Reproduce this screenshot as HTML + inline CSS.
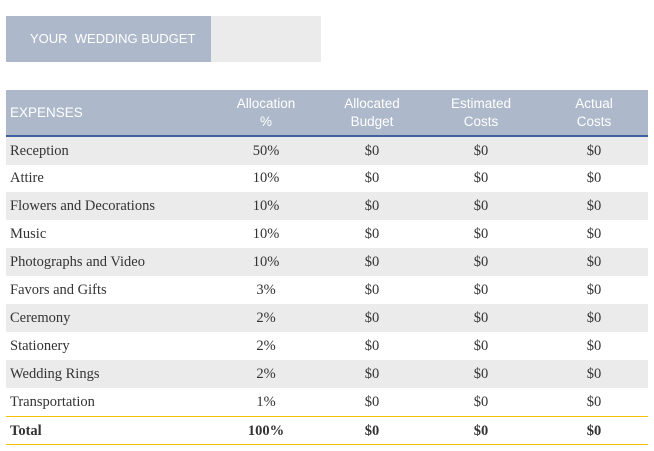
<!DOCTYPE html>
<html><head><style>
body{margin:0;width:654px;height:451px;background:#fff;position:relative;font-family:"Liberation Serif",serif;color:#333;}
.tb{position:absolute;left:6px;top:16px;width:205px;height:46px;background:#adb9ca;color:#fff;font:13px "Liberation Sans",sans-serif;line-height:46px;text-indent:24px;}
.tg{position:absolute;left:211px;top:16px;width:110px;height:46px;background:#ebebeb;}
.hd{position:absolute;left:6px;top:90px;width:642px;height:45px;background:#adb9ca;border-bottom:2px solid #3f5f9e;color:#fff;font:13.5px "Liberation Sans",sans-serif;}
.hd div{position:absolute;text-align:center;width:110px;top:5px;line-height:18px;}
.r{position:absolute;left:6px;width:642px;height:28px;font-size:14.5px;line-height:28px;}
.r span{position:absolute;text-align:center;width:100px;}
.r .n{left:4px;text-align:left;width:200px;}
.g{background:#ebebeb;}
.t{font-weight:bold;border-top:1px solid #f5c000;border-bottom:1px solid #f5c000;height:27px;}
</style></head><body>
<div class="tb">YOUR&nbsp; WEDDING BUDGET</div><div class="tg"></div>
<div class="hd">
<div style="left:4px;text-align:left;top:14px">EXPENSES</div>
<div style="left:205px">Allocation<br>%</div>
<div style="left:311px">Allocated<br>Budget</div>
<div style="left:420px">Estimated<br>Costs</div>
<div style="left:533px">Actual<br>Costs</div>
</div>
<div class="r g" style="top:137px"><span class="n">Reception</span><span style="left:210px">50%</span><span style="left:316px">$0</span><span style="left:425px">$0</span><span style="left:538px">$0</span></div>
<div class="r" style="top:164px"><span class="n">Attire</span><span style="left:210px">10%</span><span style="left:316px">$0</span><span style="left:425px">$0</span><span style="left:538px">$0</span></div>
<div class="r g" style="top:192px"><span class="n">Flowers and Decorations</span><span style="left:210px">10%</span><span style="left:316px">$0</span><span style="left:425px">$0</span><span style="left:538px">$0</span></div>
<div class="r" style="top:220px"><span class="n">Music</span><span style="left:210px">10%</span><span style="left:316px">$0</span><span style="left:425px">$0</span><span style="left:538px">$0</span></div>
<div class="r g" style="top:248px"><span class="n">Photographs and Video</span><span style="left:210px">10%</span><span style="left:316px">$0</span><span style="left:425px">$0</span><span style="left:538px">$0</span></div>
<div class="r" style="top:276px"><span class="n">Favors and Gifts</span><span style="left:210px">3%</span><span style="left:316px">$0</span><span style="left:425px">$0</span><span style="left:538px">$0</span></div>
<div class="r g" style="top:304px"><span class="n">Ceremony</span><span style="left:210px">2%</span><span style="left:316px">$0</span><span style="left:425px">$0</span><span style="left:538px">$0</span></div>
<div class="r" style="top:332px"><span class="n">Stationery</span><span style="left:210px">2%</span><span style="left:316px">$0</span><span style="left:425px">$0</span><span style="left:538px">$0</span></div>
<div class="r g" style="top:360px"><span class="n">Wedding Rings</span><span style="left:210px">2%</span><span style="left:316px">$0</span><span style="left:425px">$0</span><span style="left:538px">$0</span></div>
<div class="r" style="top:388px"><span class="n">Transportation</span><span style="left:210px">1%</span><span style="left:316px">$0</span><span style="left:425px">$0</span><span style="left:538px">$0</span></div>
<div class="r t" style="top:416px"><span class="n">Total</span><span style="left:210px">100%</span><span style="left:316px">$0</span><span style="left:425px">$0</span><span style="left:538px">$0</span></div>
</body></html>
